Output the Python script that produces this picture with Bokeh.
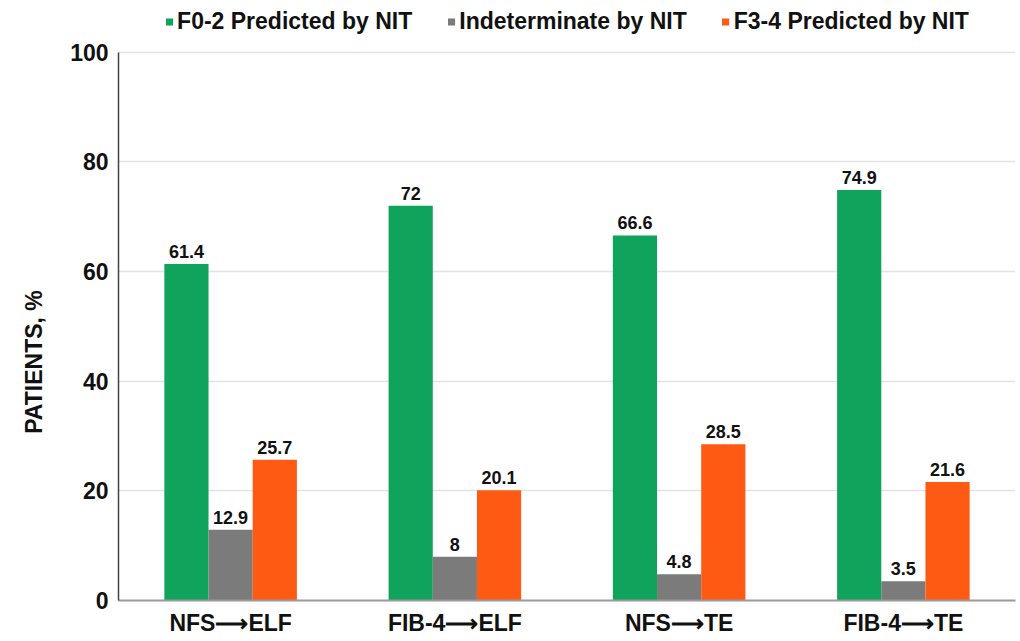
from bokeh.plotting import figure
from bokeh.models import (ColumnDataSource, FactorRange, Range1d, Legend, LegendItem,
                          FixedTicker, LabelSet)
from bokeh.transform import dodge
from bokeh.embed import file_html
from bokeh.resources import INLINE
from bokeh.core.properties import value

categories = ["NFS\u27f6ELF", "FIB-4\u27f6ELF", "NFS\u27f6TE", "FIB-4\u27f6TE"]
f02 = [61.4, 72, 66.6, 74.9]
indet = [12.9, 8, 4.8, 3.5]
f34 = [25.7, 20.1, 28.5, 21.6]
series_names = ["F0-2 Predicted by NIT", "Indeterminate by NIT", "F3-4 Predicted by NIT"]
y_ticks = [0, 20, 40, 60, 80, 100]
y_label = "PATIENTS, %"

colors = ["#0fa35b", "#7b7b7b", "#ff5a14"]
FONT = "Liberation Sans"

def fmt(v):
    return f"{v:g}"

src = ColumnDataSource(dict(
    cat=categories,
    f02=f02, indet=indet, f34=f34,
    f02_t=[fmt(v) for v in f02],
    indet_t=[fmt(v) for v in indet],
    f34_t=[fmt(v) for v in f34],
))

p = figure(width=1017, height=640, x_range=FactorRange(*categories),
           y_range=Range1d(0, 108.0), output_backend="svg", toolbar_location=None,
           min_border_left=118, min_border_right=2, min_border_top=8, min_border_bottom=40)
p.outline_line_color = None
p.x_range.range_padding = 0

bw = 0.197
renderers = []
for i, (key, col) in enumerate(zip(["f02", "indet", "f34"], colors)):
    off = (i - 1) * bw
    r = p.vbar(x=dodge("cat", off, range=p.x_range), top=key, width=bw, source=src,
               fill_color=col, line_color=None)
    renderers.append(r)
    lbl = LabelSet(x=dodge("cat", off, range=p.x_range), y=key, text=key + "_t", source=src,
                   text_align="center", text_baseline="bottom", y_offset=6,
                   text_font=value(FONT), text_font_style="bold", text_font_size="18px",
                   text_color="#111111")
    p.add_layout(lbl)

p.yaxis.ticker = FixedTicker(ticks=y_ticks)
p.yaxis.bounds = (0, 100)
p.ygrid.ticker = FixedTicker(ticks=y_ticks)
p.ygrid.grid_line_color = "#e3e3e3"
p.ygrid.grid_line_width = 1.5
p.xgrid.grid_line_color = None

for ax in (p.xaxis[0], p.yaxis[0]):
    ax.major_label_text_font = FONT
    ax.major_label_text_font_style = "bold"
    ax.major_label_text_font_size = "23px"
    ax.major_label_text_color = "#111111"
    ax.major_tick_line_color = None
    ax.minor_tick_line_color = None
    ax.major_tick_out = 0
    ax.major_tick_in = 0
p.yaxis.axis_line_color = "#444444"
p.yaxis.axis_line_width = 1.5
p.yaxis.major_label_standoff = 10
p.xaxis.axis_line_color = "#999999"
p.xaxis.axis_line_width = 2
p.xaxis.major_label_standoff = 9

# trailing em spaces push the rotated label down to where the reference has it
p.yaxis.axis_label = y_label + "\u2003" * 5
p.yaxis.axis_label_text_font = FONT
p.yaxis.axis_label_text_font_style = "bold"
p.yaxis.axis_label_text_font_size = "23px"
p.yaxis.axis_label_text_color = "#111111"
p.yaxis.axis_label_standoff = 20

legend = Legend(items=[LegendItem(label=n, renderers=[r]) for n, r in zip(series_names, renderers)],
                orientation="horizontal", location="top_center",
                label_text_font=FONT, label_text_font_style="bold", label_text_font_size="23px",
                label_text_color="#111111", glyph_width=9, glyph_height=9, spacing=34,
                padding=0, margin=0, border_line_color=None, background_fill_alpha=0,
                label_standoff=4)
p.add_layout(legend)

open("out.html", "w").write(file_html(p, INLINE))
